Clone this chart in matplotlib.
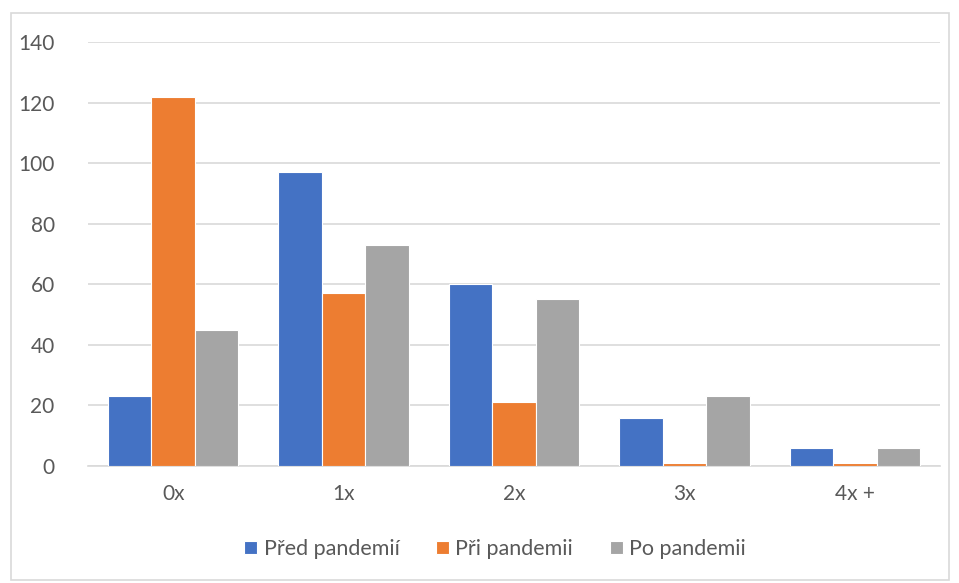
import matplotlib
matplotlib.use("Agg")
import matplotlib.pyplot as plt
import numpy as np
from matplotlib.patches import Rectangle

categories = ["0x", "1x", "2x", "3x", "4x +"]
pred = [23, 97, 60, 16, 6]
pri = [122, 57, 21, 1, 1]
po = [45, 73, 55, 23, 6]
series_names = ["Před pandemií", "Při pandemii", "Po pandemii"]
colors = ["#4472C4", "#ED7D31", "#A5A5A5"]

plt.rcParams["font.family"] = ["Lato", "DejaVu Sans"]

fig = plt.figure(figsize=(9.59, 5.83), dpi=100)
fig.patches.append(Rectangle((11 / 959, 1 - 580 / 583), 938 / 959, 567 / 583,
                             transform=fig.transFigure, fill=False,
                             edgecolor="#D9D9D9", linewidth=1.2))
ax = fig.add_axes([88 / 959, 117 / 583, 852 / 959, 424 / 583])

x = np.arange(len(categories))
w = 0.255
for i, (vals, name, c) in enumerate(zip([pred, pri, po], series_names, colors)):
    ax.bar(x + (i - 1) * w, vals, w, color=c, edgecolor="white", linewidth=0.8,
           label=name, zorder=3)

ax.set_xlim(-0.5, len(categories) - 0.5)
ax.set_ylim(0, 140)
ax.set_yticks(range(0, 141, 20))
ax.set_xticks(x)
ax.set_xticklabels(categories)
ax.grid(axis="y", color="#D9D9D9", linewidth=1.2, zorder=0)
for s in ["top", "right", "left"]:
    ax.spines[s].set_visible(False)
ax.spines["bottom"].set_color("#D9D9D9")
ax.spines["bottom"].set_linewidth(1.2)
ax.tick_params(length=0, labelsize=15, labelcolor="#595959")
ax.tick_params(axis="x", pad=13)
ax.tick_params(axis="y", pad=24)

ax.legend(loc="center", bbox_to_anchor=(495 / 959, 1 - 549 / 583),
          bbox_transform=fig.transFigure, ncol=3, frameon=False,
          fontsize=15.5, handlelength=0.6, handleheight=0.6,
          handletextpad=0.3, columnspacing=1.7, labelcolor="#595959")

fig.savefig("out.png", dpi=100)
